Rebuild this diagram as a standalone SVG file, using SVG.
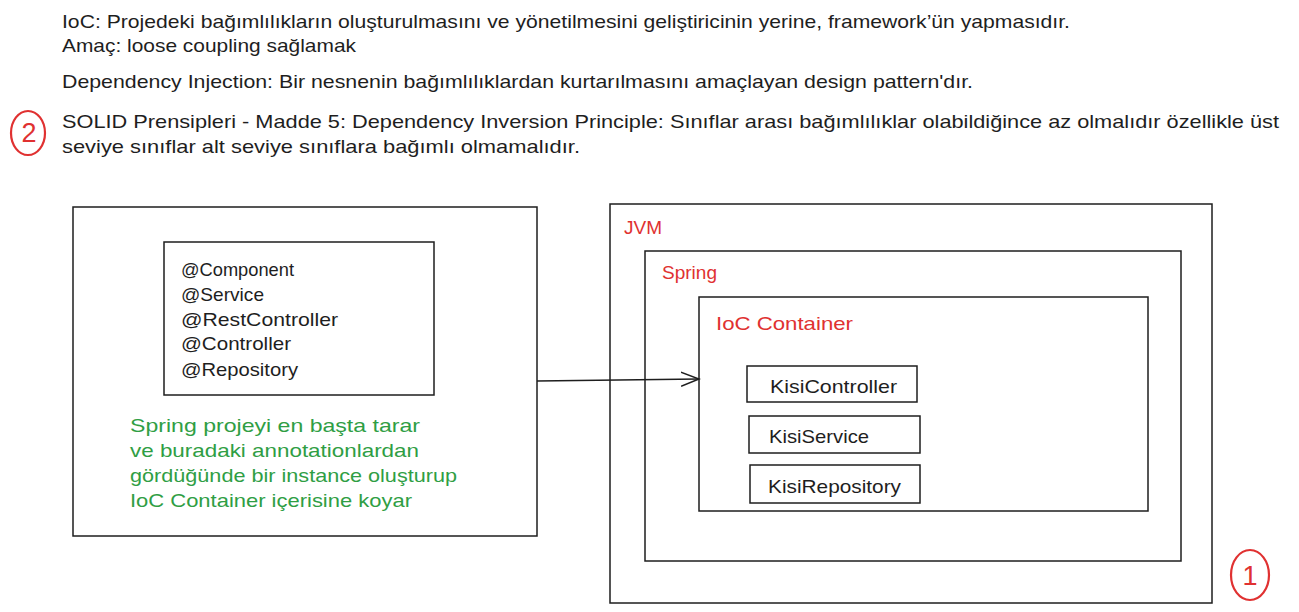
<svg xmlns="http://www.w3.org/2000/svg" width="1299" height="612" viewBox="0 0 1299 612">
<defs>
<style>
.t{font-family:"Liberation Sans",Arial,sans-serif;font-size:19px;fill:#1e1e1e}
.r{fill:#e03131}
.g{fill:#2f9e44}
.num{font-family:"Liberation Sans",Arial,sans-serif;font-size:27px;fill:#e03131}
.box{fill:none;stroke:#1e1e1e;stroke-width:1.5}
.circ{fill:none;stroke:#e03131;stroke-width:2.2}
</style>
<marker id="ah" markerWidth="20" markerHeight="20" refX="18" refY="10" orient="auto" markerUnits="userSpaceOnUse">
<path d="M0,3 L18,10 L0,17" fill="none" stroke="#1e1e1e" stroke-width="1.5"/>
</marker>
</defs>
<rect width="1299" height="612" fill="#ffffff"/>
<g id="header">
<text class="t" x="62" y="28" textLength="1008" lengthAdjust="spacingAndGlyphs">IoC: Projedeki bağımlılıkların oluşturulmasını ve yönetilmesini geliştiricinin yerine, framework’ün yapmasıdır.</text>
<text class="t" x="62" y="52" textLength="294" lengthAdjust="spacingAndGlyphs">Amaç: loose coupling sağlamak</text>
<text class="t" x="62" y="88" textLength="911" lengthAdjust="spacingAndGlyphs">Dependency Injection: Bir nesnenin bağımlılıklardan kurtarılmasını amaçlayan design pattern'dır.</text>
<text class="t" x="62" y="128" textLength="1217" lengthAdjust="spacingAndGlyphs">SOLID Prensipleri - Madde 5: Dependency Inversion Principle: Sınıflar arası bağımlılıklar olabildiğince az olmalıdır özellikle üst</text>
<text class="t" x="62" y="153" textLength="518" lengthAdjust="spacingAndGlyphs">seviye sınıflar alt seviye sınıflara bağımlı olmamalıdır.</text>
</g>
<g id="marker2">
<ellipse class="circ" cx="28" cy="133" rx="17" ry="22"/>
<text class="num" x="29" y="142" text-anchor="middle">2</text>
</g>
<g id="marker1">
<ellipse class="circ" cx="1250" cy="575" rx="19" ry="25"/>
<text class="num" x="1250" y="585" text-anchor="middle">1</text>
</g>
<g id="project">
<rect class="box" x="73" y="207" width="464" height="329"/>
<text class="t g" x="130" y="432" textLength="290" lengthAdjust="spacingAndGlyphs">Spring projeyi en başta tarar</text>
<text class="t g" x="130" y="457" textLength="289" lengthAdjust="spacingAndGlyphs">ve buradaki annotationlardan</text>
<text class="t g" x="130" y="482" textLength="327" lengthAdjust="spacingAndGlyphs">gördüğünde bir instance oluşturup</text>
<text class="t g" x="130" y="507" textLength="282" lengthAdjust="spacingAndGlyphs">IoC Container içerisine koyar</text>
</g>
<g id="annotations">
<rect class="box" x="164" y="242" width="270" height="153"/>
<text class="t" x="181" y="276" textLength="113" lengthAdjust="spacingAndGlyphs">@Component</text>
<text class="t" x="181" y="301" textLength="83" lengthAdjust="spacingAndGlyphs">@Service</text>
<text class="t" x="181" y="326" textLength="157" lengthAdjust="spacingAndGlyphs">@RestController</text>
<text class="t" x="181" y="350" textLength="110" lengthAdjust="spacingAndGlyphs">@Controller</text>
<text class="t" x="181" y="376" textLength="117" lengthAdjust="spacingAndGlyphs">@Repository</text>
</g>
<g id="jvm">
<rect class="box" x="610" y="204" width="602" height="399"/>
<text class="t r" x="624" y="234" textLength="38" lengthAdjust="spacingAndGlyphs">JVM</text>
</g>
<g id="spring">
<rect class="box" x="645" y="251" width="536" height="310"/>
<text class="t r" x="662" y="279" textLength="55" lengthAdjust="spacingAndGlyphs">Spring</text>
</g>
<g id="ioc">
<rect class="box" x="699" y="297" width="449" height="214"/>
<text class="t r" x="716" y="330" textLength="137" lengthAdjust="spacingAndGlyphs">IoC Container</text>
</g>
<g id="kisiController">
<rect class="box" x="747" y="366" width="170" height="36"/>
<text class="t" x="770" y="393" textLength="127" lengthAdjust="spacingAndGlyphs">KisiController</text>
</g>
<g id="kisiService">
<rect class="box" x="749" y="416" width="171" height="37"/>
<text class="t" x="769" y="443" textLength="100" lengthAdjust="spacingAndGlyphs">KisiService</text>
</g>
<g id="kisiRepository">
<rect class="box" x="750" y="465" width="170" height="38"/>
<text class="t" x="768" y="493" textLength="133" lengthAdjust="spacingAndGlyphs">KisiRepository</text>
</g>
<g id="connectors">
<path d="M537,381 L699,379" fill="none" stroke="#1e1e1e" stroke-width="1.5" marker-end="url(#ah)"/>
</g>
</svg>
